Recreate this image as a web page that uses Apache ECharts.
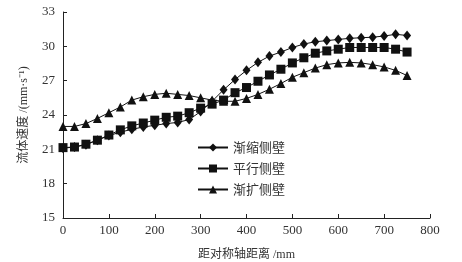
<!DOCTYPE html>
<html><head><meta charset="utf-8">
<script src="https://cdn.jsdelivr.net/npm/echarts@6/dist/echarts.min.js"></script>
<style>html,body{margin:0;padding:0;background:#fff}#c{width:462px;height:262px}</style>
</head><body><div id="c"></div>
<script>
var xs = [0,25,50,75,100,125,150,175,200,225,250,275,300,325,350,375,400,425,450,475,500,525,550,575,600,625,650,675,700,725,750];
var shrink = [21.1,21.2,21.4,21.8,22.2,22.5,22.75,22.95,23.1,23.25,23.35,23.6,24.3,25.2,26.2,27.1,27.9,28.6,29.15,29.5,29.9,30.2,30.4,30.5,30.6,30.7,30.75,30.8,30.9,31.05,30.95];
var parallel = [21.15,21.2,21.45,21.8,22.25,22.7,23.05,23.3,23.55,23.8,23.9,24.2,24.6,24.95,25.3,25.95,26.4,26.95,27.5,28.0,28.55,29.0,29.4,29.6,29.75,29.9,29.9,29.9,29.9,29.75,29.5];
var expand = [23.0,23.0,23.25,23.7,24.2,24.7,25.3,25.6,25.8,25.9,25.8,25.7,25.5,25.3,25.2,25.2,25.45,25.8,26.25,26.75,27.3,27.7,28.1,28.4,28.55,28.6,28.55,28.4,28.2,27.9,27.45];
var names = ['渐缩侧壁','平行侧壁','渐扩侧壁'];
var yTicks = [15,18,21,24,27,30,33];
var xTicks = [0,100,200,300,400,500,600,700,800];

function pairs(v){ return xs.map(function(x,i){return [x,v[i]];}); }
var serif = 'Liberation Serif, DejaVu Serif, serif';
var cjk = 'Liberation Serif, Noto Sans CJK SC, serif';
var chart = echarts.init(document.getElementById('c'));
function ser(name, data, sym, size){
  return {name:name, type:'line', data:pairs(data), symbol:sym, symbolSize:size,
    lineStyle:{color:'#111', width:1}, itemStyle:{color:'#111'}, animation:false};
}
chart.setOption({
  animation:false,
  grid:{left:63, right:32, top:12, bottom:44, outerBoundsMode:'none', containLabel:false},
  legend:{orient:'vertical', left:192, top:136, itemWidth:30, itemHeight:10, itemGap:8,
    textStyle:{fontFamily:'Noto Sans CJK SC', fontSize:13, color:'#333'},
    data:names},
  xAxis:{type:'value', min:0, max:800, interval:100,
    name:'距对称轴距离 /mm', nameLocation:'middle', nameGap:31,
    nameTextStyle:{fontFamily:cjk, fontSize:12, color:'#333'},
    axisLine:{lineStyle:{color:'#222', width:1}},
    axisTick:{inside:true, length:4, lineStyle:{color:'#222'}},
    axisLabel:{fontFamily:serif, fontSize:13, color:'#333', margin:6},
    splitLine:{show:false}},
  yAxis:{type:'value', min:15, max:33, interval:3,
    name:'流体速度 /(mm·s⁻¹)', nameLocation:'middle', nameGap:33, nameRotate:90,
    nameTextStyle:{fontFamily:cjk, fontSize:12, color:'#333'},
    axisLine:{show:true, lineStyle:{color:'#222', width:1}},
    axisTick:{show:true, inside:true, length:4, lineStyle:{color:'#222'}},
    axisLabel:{fontFamily:serif, fontSize:13, color:'#333', margin:8},
    splitLine:{show:false}},
  series:[
    ser(names[0], shrink, 'diamond', [8,10]),
    ser(names[1], parallel, 'rect', 9),
    ser(names[2], expand, 'triangle', 9)
  ]
});
</script></body></html>
